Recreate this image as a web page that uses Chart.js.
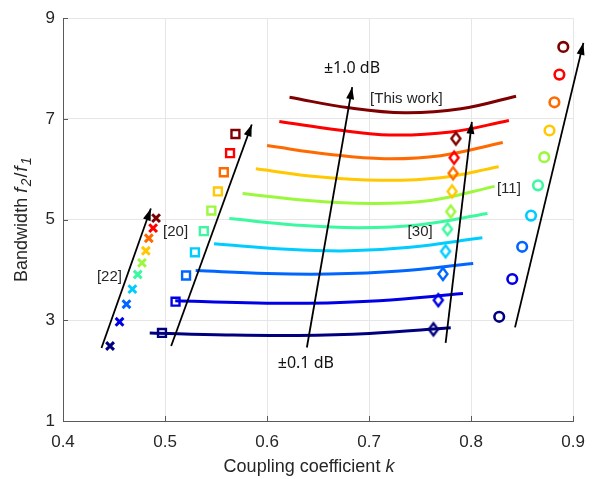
<!DOCTYPE html>
<html>
<head>
<meta charset="utf-8">
<script src="https://cdn.jsdelivr.net/npm/chart.js@4.4.0/dist/chart.umd.min.js"></script>
<style>
  body { margin: 0; background: #fff; }
  #wrap { width: 596px; height: 479px; }
</style>
</head>
<body>
<div id="wrap"><canvas id="chart" width="596" height="479"></canvas></div>
<script>
// one colour per ripple level, ±0.1 dB (navy) up to ±1.0 dB (dark red)
var levelColors = ["#00007f", "#0000e6", "#0066ff", "#00ccff", "#3cf8a0", "#9cf83c", "#ffc800", "#ff6a00", "#ff0000", "#7f0000"];

// [This work] curves, one row per level
var workK = [
  [0.485, 0.56, 0.63, 0.70, 0.780],
  [0.510, 0.58, 0.64, 0.71, 0.792],
  [0.530, 0.60, 0.66, 0.73, 0.802],
  [0.548, 0.62, 0.68, 0.74, 0.811],
  [0.563, 0.63, 0.69, 0.75, 0.816],
  [0.576, 0.64, 0.70, 0.76, 0.823],
  [0.589, 0.65, 0.71, 0.77, 0.827],
  [0.600, 0.66, 0.715, 0.77, 0.831],
  [0.612, 0.67, 0.72, 0.78, 0.837],
  [0.622, 0.68, 0.735, 0.79, 0.844]
];
var workBw = [
  [2.75, 2.71, 2.70, 2.74, 2.85],
  [3.39, 3.35, 3.34, 3.39, 3.53],
  [3.99, 3.93, 3.92, 3.98, 4.13],
  [4.52, 4.41, 4.38, 4.45, 4.64],
  [5.02, 4.89, 4.84, 4.90, 5.12],
  [5.52, 5.38, 5.32, 5.38, 5.66],
  [6.01, 5.85, 5.78, 5.83, 6.05],
  [6.47, 6.30, 6.21, 6.27, 6.53],
  [6.95, 6.78, 6.68, 6.74, 6.97],
  [7.43, 7.22, 7.12, 7.20, 7.45]
];

// published designs, one point per level
var ref22K = [0.4461, 0.4554, 0.4622, 0.468, 0.4732, 0.4774, 0.4812, 0.4841, 0.4883, 0.4912];
var ref22Bw = [2.49, 2.97, 3.32, 3.62, 3.91, 4.14, 4.38, 4.63, 4.83, 5.03];
var ref20K = [0.497, 0.5103, 0.5206, 0.5293, 0.538, 0.5454, 0.5518, 0.5576, 0.5637, 0.569];
var ref20Bw = [2.75, 3.37, 3.89, 4.35, 4.77, 5.18, 5.56, 5.94, 6.32, 6.70];
var ref30K = [0.763, 0.7678, 0.7723, 0.7749, 0.7768, 0.780, 0.7813, 0.7823, 0.7833, 0.785];
var ref30Bw = [2.82, 3.40, 3.92, 4.37, 4.81, 5.16, 5.56, 5.92, 6.23, 6.61];
var ref11K = [0.8275, 0.8403, 0.85, 0.8587, 0.8655, 0.8716, 0.8768, 0.8816, 0.8865, 0.8903];
var ref11Bw = [3.07, 3.82, 4.46, 5.08, 5.68, 6.24, 6.77, 7.33, 7.88, 8.43];

// trend arrows [k, bandwidth]: tail and head
var arrowTail = [[0.4377, 2.45], [0.506, 2.49], [0.639, 2.46], [0.775, 2.55], [0.843, 2.86]];
var arrowHead = [[0.4861, 5.22], [0.585, 6.89], [0.6834, 7.63], [0.8007, 6.94], [0.91, 8.51]];

// annotations [text, k, bandwidth]
var notes = [
  ["[22]", 0.4455, 3.87],
  ["[20]", 0.5103, 4.75],
  ["[30]", 0.750, 4.75],
  ["[11]", 0.837, 5.62],
  ["[This work]", 0.7365, 7.39]
];
var dbNotes = [
  ["\u00b11.0 dB", 0.6832, 8.0],
  ["\u00b10.1 dB", 0.638, 2.14]
];

var xTicks = [0.4, 0.5, 0.6, 0.7, 0.8, 0.9];
var yTicks = [1, 3, 5, 7, 9];

var textColor = "#262626";
var axisColor = "#5a5a5a";

function toPoints(xs, ys) {
  return xs.map(function (x, i) { return { x: x, y: ys[i] }; });
}

// tall diamond marker drawn on its own small canvas
function diamondImage(color) {
  var c = document.createElement("canvas");
  c.width = 14;
  c.height = 18;
  var g = c.getContext("2d");
  g.strokeStyle = color;
  g.lineWidth = 2.4;
  g.beginPath();
  g.moveTo(7, 3);
  g.lineTo(11.5, 9);
  g.lineTo(7, 15);
  g.lineTo(2.5, 9);
  g.closePath();
  g.stroke();
  return c;
}

var datasets = [];

arrowTail.forEach(function (t, i) {
  datasets.push({
    data: [{ x: t[0], y: t[1] }, { x: arrowHead[i][0], y: arrowHead[i][1] }],
    showLine: true,
    borderColor: "#000",
    borderWidth: 1.8,
    pointRadius: 0,
    clip: false,
    isArrow: true
  });
});

datasets.push({
  data: toPoints(ref22K, ref22Bw),
  pointStyle: "crossRot",
  pointRadius: 5.5,
  pointBorderWidth: 3,
  pointBorderColor: levelColors
});
datasets.push({
  data: toPoints(ref20K, ref20Bw),
  pointStyle: "rect",
  pointRadius: 5.6,
  pointBorderWidth: 2.4,
  pointBackgroundColor: "rgba(255,255,255,0)",
  pointBorderColor: levelColors
});
datasets.push({
  data: toPoints(ref30K, ref30Bw),
  pointStyle: levelColors.map(diamondImage),
  pointRadius: 6
});
datasets.push({
  data: toPoints(ref11K, ref11Bw),
  pointStyle: "circle",
  pointRadius: 4.8,
  pointBorderWidth: 2.6,
  pointBackgroundColor: "rgba(255,255,255,0)",
  pointBorderColor: levelColors
});

for (var i = levelColors.length - 1; i >= 0; i--) {
  datasets.push({
    data: toPoints(workK[i], workBw[i]),
    showLine: true,
    tension: 0.4,
    borderColor: levelColors[i],
    borderWidth: 3,
    pointRadius: 0
  });
}

// draw a run of text pieces (plain, italic, subscript) centred on x
function drawRich(g, parts, x, y, size) {
  function fontOf(p) {
    return (p.italic ? "italic " : "") + Math.round(p.sub ? size * 0.78 : size) + "px 'Liberation Sans'";
  }
  var widths = parts.map(function (p) {
    g.font = fontOf(p);
    return g.measureText(p.t).width + (p.gap || 0);
  });
  var total = widths.reduce(function (a, b) { return a + b; }, 0);
  var cx = x - total / 2;
  parts.forEach(function (p, i) {
    g.font = fontOf(p);
    g.fillText(p.t, cx, p.sub ? y + size * 0.3 : y);
    cx += widths[i];
  });
}

var decorPlugin = {
  id: "decor",
  afterDatasetsDraw: function (chart) {
    var g = chart.ctx;
    var xs = chart.scales.x, ys = chart.scales.y;
    var area = chart.chartArea;
    g.save();

    // arrow heads
    chart.data.datasets.forEach(function (ds, i) {
      if (!ds.isArrow) return;
      var pts = chart.getDatasetMeta(i).data;
      var a = pts[0], b = pts[1];
      var ang = Math.atan2(b.y - a.y, b.x - a.x);
      var len = 12, half = 4;
      g.fillStyle = "#000";
      g.beginPath();
      g.moveTo(b.x, b.y);
      g.lineTo(b.x - len * Math.cos(ang) - half * Math.sin(ang), b.y - len * Math.sin(ang) + half * Math.cos(ang));
      g.lineTo(b.x - len * Math.cos(ang) + half * Math.sin(ang), b.y - len * Math.sin(ang) - half * Math.cos(ang));
      g.closePath();
      g.fill();
    });

    // inward tick marks
    g.strokeStyle = axisColor;
    g.lineWidth = 1;
    xTicks.forEach(function (v) {
      var px = Math.round(xs.getPixelForValue(v)) + 0.5;
      g.beginPath();
      g.moveTo(px, area.bottom);
      g.lineTo(px, area.bottom - 5);
      g.stroke();
    });
    yTicks.forEach(function (v) {
      var py = Math.round(ys.getPixelForValue(v)) + 0.5;
      g.beginPath();
      g.moveTo(area.left, py);
      g.lineTo(area.left + 5, py);
      g.stroke();
    });

    // labels inside the plot
    g.textAlign = "center";
    g.textBaseline = "middle";
    g.fillStyle = textColor;
    g.font = "15px 'Liberation Sans'";
    notes.forEach(function (n) {
      g.fillText(n[0], xs.getPixelForValue(n[1]), ys.getPixelForValue(n[2]));
    });
    g.fillStyle = "#111";
    g.font = "16px 'Noto Sans'";
    dbNotes.forEach(function (n) {
      g.fillText(n[0], xs.getPixelForValue(n[1]), ys.getPixelForValue(n[2]));
    });

    // axis titles
    g.textAlign = "left";
    g.fillStyle = textColor;
    drawRich(g, [{ t: "Coupling coefficient " }, { t: "k", italic: true }], 309, 467, 18);
    g.translate(22, (area.top + area.bottom) / 2);
    g.rotate(-Math.PI / 2);
    drawRich(g, [
      { t: "Bandwidth " },
      { t: "f", italic: true, gap: 1.5 },
      { t: "2", italic: true, sub: true, gap: 1 },
      { t: "/", gap: 1 },
      { t: "f", italic: true, gap: 1.5 },
      { t: "1", italic: true, sub: true }
    ], 0, 0, 18);
    g.restore();
  }
};

new Chart(document.getElementById("chart"), {
  type: "scatter",
  data: { datasets: datasets },
  options: {
    responsive: false,
    animation: false,
    events: [],
    layout: { padding: { top: 18, right: 16, left: 0, bottom: 0 } },
    plugins: { legend: { display: false }, tooltip: { enabled: false } },
    scales: {
      x: {
        type: "linear",
        min: 0.4,
        max: 0.9,
        afterFit: function (s) { s.height = 58; },
        afterBuildTicks: function (s) { s.ticks = xTicks.map(function (v) { return { value: v }; }); },
        ticks: {
          padding: 11,
          color: textColor,
          font: { family: "'Liberation Sans'", size: 17 },
          callback: function (v) { return v.toFixed(1); }
        },
        grid: { color: "#e6e6e6", drawTicks: false },
        border: { color: axisColor, width: 1 }
      },
      y: {
        min: 1,
        max: 9,
        afterFit: function (s) { s.width = 63; },
        afterBuildTicks: function (s) { s.ticks = yTicks.map(function (v) { return { value: v }; }); },
        ticks: {
          padding: 8,
          color: textColor,
          font: { family: "'Liberation Sans'", size: 17 }
        },
        grid: { color: "#e6e6e6", drawTicks: false },
        border: { color: axisColor, width: 1 }
      }
    }
  },
  plugins: [decorPlugin]
});
</script>
</body>
</html>
